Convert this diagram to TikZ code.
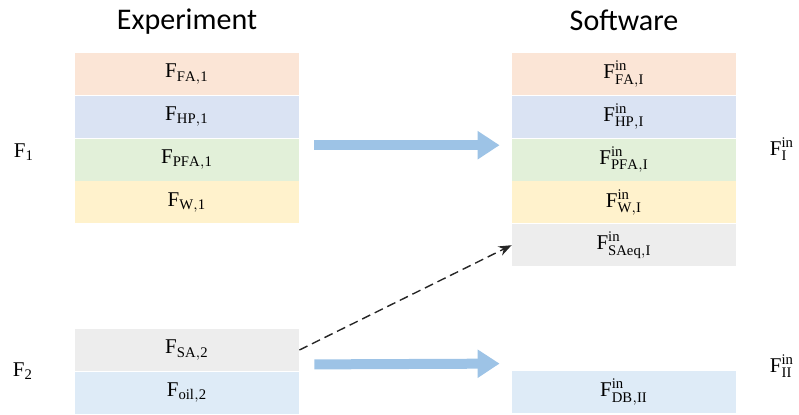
\documentclass[tikz,border=0pt]{standalone}
\usepackage{amsmath}
\usepackage{fontspec}
\setmainfont{Carlito}
\setmathrm{Liberation Serif}
\usetikzlibrary{positioning,arrows.meta,calc}
\definecolor{faorange}{HTML}{FBE5D6}
\definecolor{hpblue}{HTML}{DAE3F3}
\definecolor{pfagreen}{HTML}{E2F0D9}
\definecolor{wyellow}{HTML}{FFF2CC}
\definecolor{sagray}{HTML}{EDEDED}
\definecolor{oilblue}{HTML}{DEEBF7}
\definecolor{flowblue}{HTML}{9DC3E6}

\begin{document}
\begin{tikzpicture}[x=0.5pt,y=-0.5pt,
    layer/.style={minimum width=112pt,minimum height=21pt,inner sep=0pt,
      font=\fontsize{10.5}{12}\selectfont},
    header/.style={font=\fontsize{15}{18}\selectfont},
    side/.style={font=\fontsize{10.5}{12}\selectfont},
    bigarrow/.style={line width=5pt,flowblue,-{Triangle[length=11pt,width=13.5pt]}}]
      \useasboundingbox (0,0) rectangle (799,414);
      % experiment column
      \node[layer,fill=faorange] (fa1) at (187,74) {$\mathrm{F}_{\mathrm{FA,1}}$};
      \node[layer,fill=hpblue,below=0pt of fa1] (hp1) {$\mathrm{F}_{\mathrm{HP,1}}$};
      \node[layer,fill=pfagreen,below=0pt of hp1] (pfa1) {$\mathrm{F}_{\mathrm{PFA,1}}$};
      \node[layer,fill=wyellow,below=0pt of pfa1] (w1) {$\mathrm{F}_{\mathrm{W,1}}$};
      \node[layer,fill=sagray] (sa2) at (187,350) {$\mathrm{F}_{\mathrm{SA,2}}$};
      \node[layer,fill=oilblue,below=0pt of sa2] (oil2) {$\mathrm{F}_{\mathrm{oil,2}}$};
      \node[header] (experiment) at (187,22) {Experiment};

      % software column
      \node[layer,fill=faorange] (faI) at (624,74) {$\mathrm{F}^{\mathrm{in}}_{\mathrm{FA,I}}$};
      \node[layer,fill=hpblue,below=0pt of faI] (hpI) {$\mathrm{F}^{\mathrm{in}}_{\mathrm{HP,I}}$};
      \node[layer,fill=pfagreen,below=0pt of hpI] (pfaI) {$\mathrm{F}^{\mathrm{in}}_{\mathrm{PFA,I}}$};
      \node[layer,fill=wyellow,below=0pt of pfaI] (wI) {$\mathrm{F}^{\mathrm{in}}_{\mathrm{W,I}}$};
      \node[layer,fill=sagray,below=0pt of wI] (saeqI) {$\mathrm{F}^{\mathrm{in}}_{\mathrm{SAeq,I}}$};
      \node[layer,fill=oilblue] (dbII) at (624,392) {$\mathrm{F}^{\mathrm{in}}_{\mathrm{DB,II}}$};
      \node[header] (software) at (624,20) {Software};

      % stream labels
      \node[side] (f1) at (24,152) {$\mathrm{F}_{\mathrm{1}}$};
      \node[side] (f2) at (23,371) {$\mathrm{F}_{\mathrm{2}}$};
      \node[side] (fI) at (782,149) {$\mathrm{F}^{\mathrm{in}}_{\mathrm{I}}$};
      \node[side] (fII) at (782,366) {$\mathrm{F}^{\mathrm{in}}_{\mathrm{II}}$};

      \draw[bigarrow] ([xshift=7.5pt,yshift=-3.5pt]hp1.south east) -- ([xshift=-6pt,yshift=-3.5pt]hpI.south west);
      \draw[bigarrow] ([xshift=7.5pt,yshift=3.5pt]sa2.south east) -- ([xshift=-6pt,yshift=3.5pt]dbII.north west);
      \draw[-{Stealth[length=6.5pt,width=5pt]},line width=0.7pt,black!85,
        dash pattern=on 4.5pt off 2.5pt] (sa2.east) -- (saeqI.west);
    \end{tikzpicture}
\end{document}
